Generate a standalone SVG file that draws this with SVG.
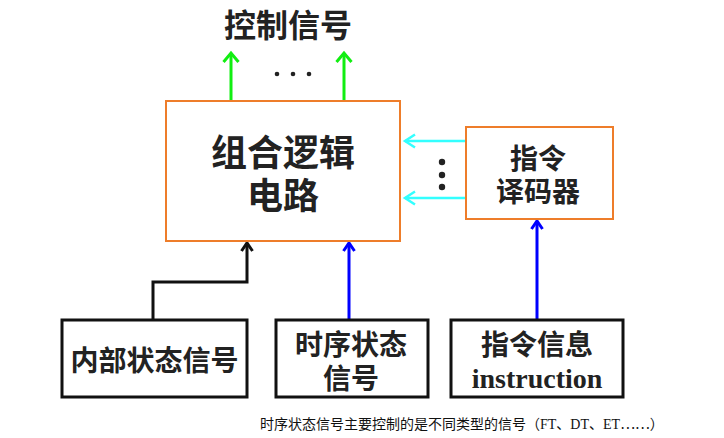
<svg xmlns="http://www.w3.org/2000/svg" width="724" height="438" viewBox="0 0 724 438">
<style>
.cjk{font-family:"Noto Sans CJK SC","Noto Sans",sans-serif;font-weight:bold;fill:#222;text-anchor:middle;dominant-baseline:central}
.orange{fill:#fff;stroke:#ee7d2a;stroke-width:2}
.blk{fill:#fff;stroke:#111;stroke-width:3}
.cap{font-family:"Noto Sans CJK SC",sans-serif;font-size:14px;fill:#111}
</style>
<defs>
<marker id="mg" markerUnits="userSpaceOnUse" markerWidth="24" markerHeight="24" viewBox="-12 -12 24 24" refX="0" refY="0" orient="auto"><path d="M-9,-7.5 L0,0 L-9,7.5" fill="none" stroke="#11ee11" stroke-width="3"/></marker>
<marker id="mc" markerUnits="userSpaceOnUse" markerWidth="24" markerHeight="24" viewBox="-12 -12 24 24" refX="0" refY="0" orient="auto"><path d="M-10,-6.5 L0,0 L-10,6.5" fill="none" stroke="#33ffff" stroke-width="2.5"/></marker>
<marker id="mb" markerUnits="userSpaceOnUse" markerWidth="24" markerHeight="24" viewBox="-12 -12 24 24" refX="0" refY="0" orient="auto"><path d="M-8,-5.5 L0,0 L-8,5.5" fill="none" stroke="#0000ff" stroke-width="3"/></marker>
<marker id="mk" markerUnits="userSpaceOnUse" markerWidth="24" markerHeight="24" viewBox="-12 -12 24 24" refX="0" refY="0" orient="auto"><path d="M-8,-5.5 L0,0 L-8,5.5" fill="none" stroke="#111" stroke-width="3"/></marker>
</defs>

<g id="title">
<text class="cjk" x="288" y="23" font-size="32">控制信号</text>
</g>

<g id="connectors" fill="none">
<line x1="231" y1="101" x2="231" y2="53" stroke="#11ee11" stroke-width="3" marker-end="url(#mg)"/>
<line x1="344" y1="101" x2="344" y2="53" stroke="#11ee11" stroke-width="3" marker-end="url(#mg)"/>
<line x1="466" y1="141" x2="405" y2="141" stroke="#33ffff" stroke-width="2.5" marker-end="url(#mc)"/>
<line x1="466" y1="198" x2="405" y2="198" stroke="#33ffff" stroke-width="2.5" marker-end="url(#mc)"/>
<polyline points="153,320 153,282 247,282 247,243" stroke="#111" stroke-width="3" marker-end="url(#mk)"/>
<line x1="349" y1="320" x2="349" y2="243" stroke="#0000ff" stroke-width="3" marker-end="url(#mb)"/>
<line x1="537" y1="320" x2="537" y2="221" stroke="#0000ff" stroke-width="3" marker-end="url(#mb)"/>
<g fill="#222" stroke="none">
<circle cx="277" cy="74" r="2.3"/><circle cx="293" cy="74" r="2.3"/><circle cx="309" cy="74" r="2.3"/>
<circle cx="442" cy="162" r="3.2"/><circle cx="442" cy="175" r="3.2"/><circle cx="442" cy="187" r="3.2"/>
</g>
</g>

<g id="logic">
<rect class="orange" x="166" y="101" width="234" height="140"/>
<text class="cjk" x="283" y="150" font-size="36">组合逻辑</text>
<text class="cjk" x="283" y="193" font-size="36">电路</text>
</g>

<g id="decoder">
<rect class="orange" x="466" y="127" width="147" height="92"/>
<text class="cjk" x="538" y="157" font-size="28">指令</text>
<text class="cjk" x="538" y="190" font-size="28">译码器</text>
</g>

<g id="internal">
<rect class="blk" x="62" y="320" width="185" height="77"/>
<text class="cjk" x="154.5" y="359" font-size="28">内部状态信号</text>
</g>

<g id="timing">
<rect class="blk" x="276" y="320" width="152" height="77"/>
<text class="cjk" x="351" y="343" font-size="28">时序状态</text>
<text class="cjk" x="351" y="377" font-size="28">信号</text>
</g>

<g id="instr">
<rect class="blk" x="451" y="320" width="172" height="77"/>
<text class="cjk" x="537" y="343" font-size="28">指令信息</text>
<text x="537" y="378" font-size="28" font-family="'Liberation Serif',serif" font-weight="bold" fill="#222" text-anchor="middle" dominant-baseline="central">instruction</text>
</g>

<g id="caption">
<text class="cap" x="260" y="429">时序状态信号主要控制的是不同类型的信号（<tspan font-family="'Liberation Serif',serif">FT</tspan>、<tspan font-family="'Liberation Serif',serif">DT</tspan>、<tspan font-family="'Liberation Serif',serif">ET</tspan>……）</text>
</g>
</svg>
